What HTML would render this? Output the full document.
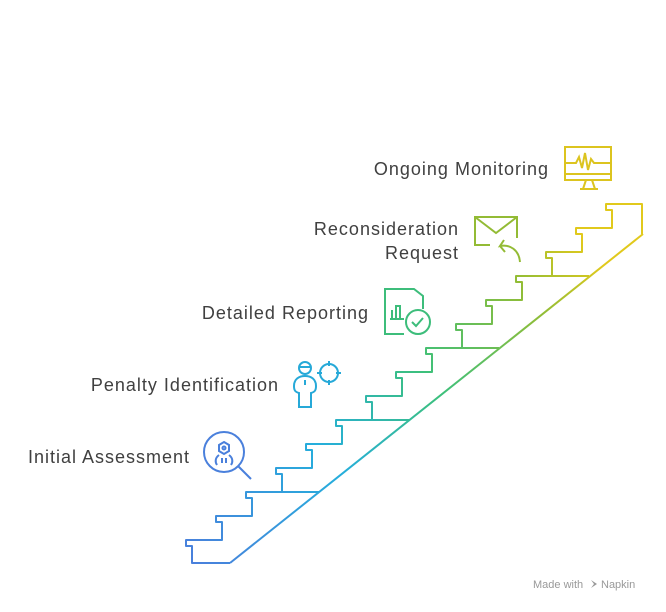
<!DOCTYPE html>
<html><head><meta charset="utf-8"><style>
html,body{margin:0;padding:0;background:#fff;width:666px;height:612px;overflow:hidden}
svg{display:block}
text{font-family:"Liberation Sans",sans-serif;fill:#404040}
</style></head><body>
<svg width="666" height="612" viewBox="0 0 666 612" xmlns="http://www.w3.org/2000/svg">
<defs>
<linearGradient id="g" gradientUnits="userSpaceOnUse" x1="190" y1="563" x2="643" y2="204">
<stop offset="0" stop-color="#4a7fdc"/>
<stop offset="0.3" stop-color="#25aedc"/>
<stop offset="0.52" stop-color="#3cc07c"/>
<stop offset="0.75" stop-color="#93bd35"/>
<stop offset="0.88" stop-color="#e1c91c"/>
</defs>
<g fill="none" stroke="url(#g)" stroke-width="2" stroke-linejoin="round">
<path id="stairs" d=""/>
<path d="M230 563 L643 234"/>
<path d="M282 492 H319 M372 420 H409 M462 348 H499 M552 276 H589"/>
</g>
<script>
var d="M230 563 H192 V546 H186 V540 H222";
for(var k=1;k<=14;k++){var xr=222+30*k,yt=540-24*k,xp=xr-30;d+=" V"+(yt+6)+" H"+(xp-6)+" V"+yt+" H"+xr;}
d+=" V234";
document.getElementById("stairs").setAttribute("d",d);
</script>
<g font-size="18" text-anchor="end" letter-spacing="1">
<text x="549" y="175">Ongoing Monitoring</text>
<text x="459" y="235">Reconsideration</text>
<text x="459" y="259">Request</text>
<text x="369" y="319">Detailed Reporting</text>
<text x="279" y="391">Penalty Identification</text>
<text x="190" y="463">Initial Assessment</text>
</g>
<g fill="none" stroke="#dcc41f" stroke-width="2">
<rect x="565" y="147" width="46" height="33"/>
<path d="M565 163 H576 L579 157 L582 168 L585 153 L588 170 L591 159 L594 163 H611"/>
<path d="M565 174 H611"/>
<path d="M586 180 L583 189 M592 180 L595 189 M580 189 H598"/>
</g>
<g fill="none" stroke="#93bb35" stroke-width="2">
<path d="M490 245 H475 V217 H517 V238"/>
<path d="M475 217 L496 233 L517 217"/>
<path d="M520 262 C519 250 510 244 500 246 L504 240 M500 246 L505 252"/>
</g>
<g fill="none" stroke="#3dbd7b" stroke-width="2">
<path d="M404 334 H385 V289 H414 L423 296 V309"/>
<path d="M392 319 V310 M396 319 V306 H400 V319 M390 319 H404"/>
<circle cx="418" cy="322" r="12"/>
<path d="M412 322 L416 326 L423 318"/>
</g>
<g fill="none" stroke="#26a9d8" stroke-width="2">
<circle cx="305" cy="368" r="6"/>
<path d="M299 367 H311"/>
<path d="M299 393 C295 392 294 390 294 386 C294 379 299 376 305 376 C311 376 316 379 316 386 C316 390 315 392 311 393 V407 H299 Z"/>
<path d="M305 380 V385"/>
<circle cx="329" cy="373" r="9"/>
<path d="M329 361 V366 M329 380 V385 M317 373 H322 M336 373 H341"/>
</g>
<g fill="none" stroke="#4a80dc" stroke-width="2">
<circle cx="224" cy="452" r="20"/>
<path d="M238 466 L251 479"/>
<path d="M224 442 L229 445 V451 L224 454 L219 451 V445 Z"/>
<circle cx="224" cy="448" r="1.5"/>
<path d="M219 455 C215 458 215 462 217 465 M229 455 C233 458 233 462 231 465 M222 458 V463 M226 458 V463"/>
</g>
<text x="533" y="588" font-size="11" style="fill:#999">Made with</text>
<path d="M591 580 L597 584 L591 588 L594 584 Z" fill="#999"/>
<text x="601" y="588" font-size="11" style="fill:#999">Napkin</text>
</svg>
</body></html>
